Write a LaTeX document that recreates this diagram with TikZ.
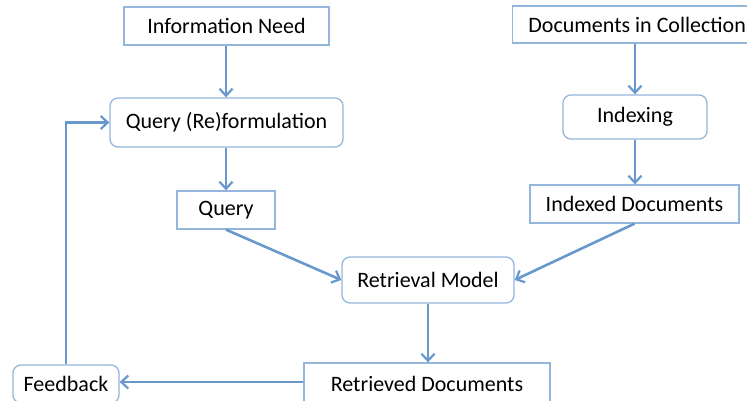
\documentclass[tikz,border=0pt]{standalone}
\usepackage{fontspec}
\setmainfont{Carlito}
\usetikzlibrary{arrows.meta}
\definecolor{boxline}{RGB}{149,182,220}
\definecolor{flow}{RGB}{104,152,204}
\tikzset{
  plainbox/.style={draw=boxline, line width=1.3pt, fill=white, inner sep=0pt, font=\fontsize{22}{26}\selectfont},
  roundbox/.style={plainbox, rounded corners=8pt},
  flowarrow/.style={draw=flow, line width=2.6pt, -{Straight Barb[length=7pt,width=13pt,line width=2.2pt]}},
}
\begin{document}
\begin{tikzpicture}[x=1pt,y=-1pt]
\useasboundingbox (0,0) rectangle (747,401);
\clip (0,0) rectangle (747,401);
% boxes
\node[plainbox, minimum width=205pt, minimum height=38pt] (need) at (226.5,26) {Information Need};
\node[roundbox, minimum width=233pt, minimum height=49pt] (qref) at (226.5,122.5) {Query (Re)formulation};
\node[plainbox, minimum width=98pt, minimum height=38pt] (query) at (226,210) {Query};
\node[plainbox, minimum width=250pt, minimum height=37pt, anchor=west] (coll) at (512,24.5) {\hspace*{-1pt}Documents in Collection};
\node[roundbox, minimum width=144pt, minimum height=44pt] (idx) at (635,117) {Indexing};
\node[plainbox, minimum width=209pt, minimum height=38pt] (idxdocs) at (634.5,204) {Indexed Documents};
\node[roundbox, minimum width=172pt, minimum height=46pt] (model) at (428,280) {Retrieval Model};
\node[plainbox, minimum width=246pt, minimum height=42pt] (retr) at (427,384) {Retrieved Documents};
\node[roundbox, minimum width=106pt, minimum height=38pt] (fb) at (66,384) {Feedback};
\coordinate (corner) at (fb.north |- qref.west);
% connectors
\draw[flowarrow] (need.south -| 226,0) -- (qref.north -| 226,0);
\draw[flowarrow] (qref.south -| 226,0) -- (query.north -| 226,0);
\draw[flowarrow] (query.south) -- (model.west);
\draw[flowarrow] (coll.south -| 635,0) -- (idx.north -| 635,0);
\draw[flowarrow] (idx.south) -- (idxdocs.north -| idx.south);
\draw[flowarrow] (idxdocs.south) -- (model.east);
\draw[flowarrow] (model.south) -- (retr.north -| model.south);
\draw[flowarrow] (retr.west |- 0,382) -- (fb.east |- 0,382);
\draw[flowarrow] (fb.north) -- (corner) -- (qref.west);
\end{tikzpicture}
\end{document}
